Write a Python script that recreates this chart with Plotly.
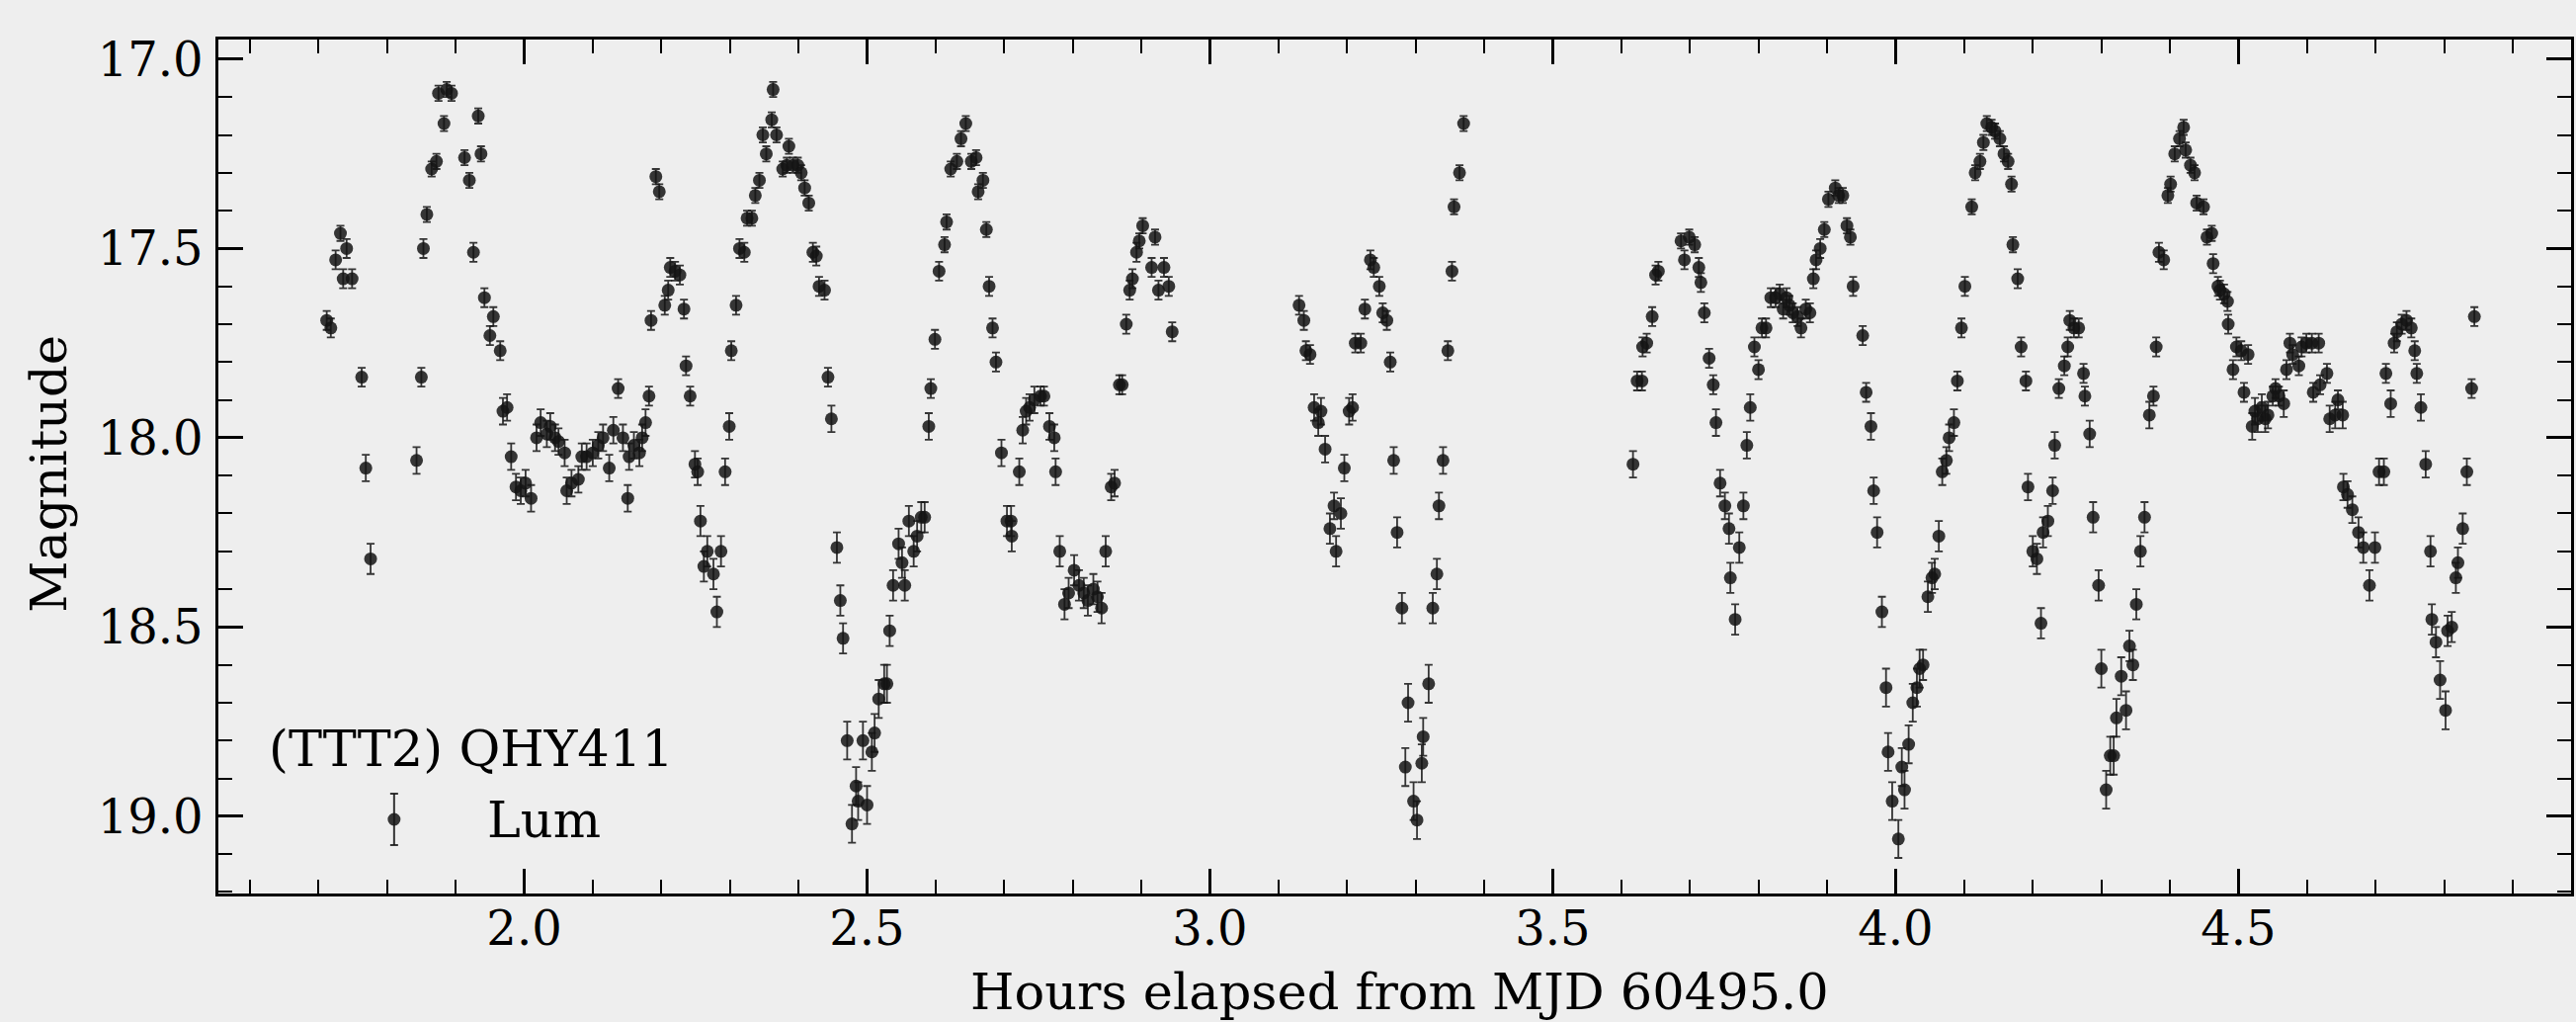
import plotly.graph_objects as go

# ---------------- data (hours elapsed from MJD 60495.0, magnitude, error) ----------------
hours_a = [1.712, 1.718, 1.725, 1.732, 1.736, 1.741, 1.749, 1.763, 1.769, 1.776,
           1.843, 1.850, 1.853, 1.858, 1.865, 1.872, 1.875, 1.883, 1.887, 1.894,
           1.913, 1.920, 1.926, 1.933, 1.937, 1.942, 1.950, 1.955, 1.965, 1.969,
           1.975, 1.981, 1.988, 1.995, 2.002, 2.010, 2.018, 2.024, 2.033, 2.038,
           2.045, 2.050, 2.059, 2.062, 2.069, 2.079, 2.084, 2.091, 2.100, 2.108,
           2.115, 2.124, 2.130, 2.137, 2.144, 2.151, 2.153, 2.160, 2.168, 2.172,
           2.177, 2.182, 2.185, 2.192, 2.197, 2.205, 2.210, 2.213, 2.220, 2.227,
           2.233, 2.236, 2.242, 2.249, 2.253, 2.257, 2.262, 2.267, 2.276, 2.281,
           2.287, 2.293, 2.299, 2.302, 2.309, 2.314, 2.321, 2.325, 2.332, 2.337,
           2.343, 2.348, 2.353, 2.361, 2.363, 2.368, 2.377, 2.383, 2.386, 2.392,
           2.399, 2.404, 2.409, 2.415, 2.421, 2.426, 2.430, 2.438, 2.443, 2.448,
           2.456, 2.461, 2.465, 2.471, 2.478, 2.484, 2.487, 2.494, 2.500, 2.507,
           2.511, 2.517, 2.525, 2.529, 2.533, 2.538, 2.546, 2.551, 2.555, 2.561,
           2.568, 2.573, 2.579, 2.584, 2.590, 2.593, 2.599, 2.605, 2.613, 2.616,
           2.622, 2.631, 2.637, 2.644, 2.652, 2.659, 2.662, 2.669, 2.674, 2.678,
           2.683, 2.688, 2.696, 2.704, 2.710, 2.711, 2.722, 2.727, 2.732, 2.737,
           2.744, 2.753, 2.758, 2.766, 2.773, 2.775, 2.781, 2.788, 2.794, 2.802,
           2.809, 2.816, 2.822, 2.830, 2.836, 2.842, 2.848, 2.856, 2.861, 2.868,
           2.872, 2.878, 2.883, 2.887, 2.893, 2.897, 2.902, 2.915, 2.920, 2.925,
           2.933, 2.940, 2.945]
mag_a = [17.69, 17.71, 17.53, 17.46, 17.58, 17.50, 17.58, 17.84, 18.08, 18.32,
         18.06, 17.84, 17.50, 17.41, 17.29, 17.27, 17.09, 17.17, 17.08, 17.09,
         17.26, 17.32, 17.51, 17.15, 17.25, 17.63, 17.73, 17.68, 17.77, 17.93,
         17.92, 18.05, 18.13, 18.14, 18.12, 18.16, 18.00, 17.96, 17.99, 17.97,
         18.00, 18.01, 18.04, 18.14, 18.12, 18.11, 18.05, 18.05, 18.04, 18.02,
         18.00, 18.08, 17.98, 17.87, 18.00, 18.16, 18.05, 18.02, 18.04, 18.00,
         17.96, 17.89, 17.69, 17.31, 17.35, 17.65, 17.61, 17.55, 17.56, 17.57,
         17.66, 17.81, 17.89, 18.07, 18.09, 18.22, 18.34, 18.30, 18.36, 18.46,
         18.30, 18.09, 17.97, 17.77, 17.65, 17.50, 17.51, 17.42, 17.42, 17.36,
         17.32, 17.20, 17.25, 17.16, 17.08, 17.20, 17.29, 17.28, 17.23, 17.28,
         17.28, 17.30, 17.34, 17.38, 17.51, 17.52, 17.60, 17.61, 17.84, 17.95,
         18.29, 18.43, 18.53, 18.80, 19.02, 18.92, 18.96, 18.80, 18.97, 18.83,
         18.78, 18.69, 18.65, 18.65, 18.51, 18.39, 18.28, 18.33, 18.39, 18.22,
         18.30, 18.26, 18.21, 18.21, 17.97, 17.87, 17.74, 17.56, 17.49, 17.43,
         17.29, 17.27, 17.21, 17.17, 17.27, 17.26, 17.35, 17.32, 17.45, 17.60,
         17.71, 17.80, 18.04, 18.22, 18.22, 18.26, 18.09, 17.98, 17.93, 17.92,
         17.90, 17.89, 17.89, 17.97, 18.00, 18.09, 18.30, 18.44, 18.41, 18.35,
         18.39, 18.41, 18.43, 18.40, 18.42, 18.45, 18.30, 18.13, 18.12, 17.86,
         17.86, 17.70, 17.61, 17.58, 17.51, 17.48, 17.44, 17.55, 17.47, 17.61,
         17.55, 17.60, 17.72]
err_a = [0.025, 0.025, 0.025, 0.02, 0.025, 0.025, 0.025, 0.025, 0.035, 0.04,
         0.035, 0.025, 0.025, 0.02, 0.02, 0.02, 0.02, 0.02, 0.02, 0.02,
         0.02, 0.02, 0.025, 0.02, 0.02, 0.025, 0.025, 0.025, 0.025, 0.035,
         0.035, 0.035, 0.035, 0.035, 0.035, 0.035, 0.035, 0.035, 0.035, 0.035,
         0.035, 0.035, 0.035, 0.035, 0.035, 0.035, 0.035, 0.035, 0.035, 0.035,
         0.035, 0.035, 0.035, 0.025, 0.035, 0.035, 0.035, 0.035, 0.035, 0.035,
         0.035, 0.025, 0.025, 0.02, 0.02, 0.025, 0.025, 0.025, 0.025, 0.025,
         0.025, 0.025, 0.025, 0.035, 0.035, 0.04, 0.04, 0.04, 0.04, 0.04,
         0.04, 0.035, 0.035, 0.025, 0.025, 0.025, 0.025, 0.02, 0.02, 0.02,
         0.02, 0.02, 0.02, 0.02, 0.02, 0.02, 0.02, 0.02, 0.02, 0.02,
         0.02, 0.02, 0.02, 0.02, 0.025, 0.025, 0.025, 0.025, 0.025, 0.035,
         0.04, 0.04, 0.04, 0.05, 0.05, 0.05, 0.05, 0.05, 0.05, 0.05,
         0.05, 0.05, 0.05, 0.05, 0.04, 0.04, 0.04, 0.04, 0.04, 0.04,
         0.04, 0.04, 0.04, 0.04, 0.035, 0.025, 0.025, 0.025, 0.02, 0.02,
         0.02, 0.02, 0.02, 0.02, 0.02, 0.02, 0.02, 0.02, 0.02, 0.025,
         0.025, 0.025, 0.035, 0.04, 0.04, 0.04, 0.035, 0.035, 0.035, 0.035,
         0.035, 0.025, 0.025, 0.035, 0.035, 0.035, 0.04, 0.04, 0.04, 0.04,
         0.04, 0.04, 0.04, 0.04, 0.04, 0.04, 0.04, 0.035, 0.035, 0.025,
         0.025, 0.025, 0.025, 0.025, 0.025, 0.02, 0.02, 0.025, 0.02, 0.025,
         0.025, 0.025, 0.025]

hours_b = [3.130, 3.137, 3.140, 3.146, 3.152, 3.158, 3.162, 3.168, 3.175, 3.181,
           3.184, 3.191, 3.196, 3.203, 3.208, 3.212, 3.220, 3.226, 3.234, 3.239,
           3.247, 3.252, 3.258, 3.263, 3.268, 3.273, 3.280, 3.285, 3.289, 3.297,
           3.302, 3.309, 3.311, 3.319, 3.325, 3.331, 3.334, 3.340, 3.347, 3.353,
           3.356, 3.364, 3.370]
mag_b = [17.65, 17.69, 17.77, 17.78, 17.92, 17.96, 17.93, 18.03, 18.24, 18.18,
         18.30, 18.20, 18.08, 17.93, 17.92, 17.75, 17.75, 17.66, 17.53, 17.55,
         17.60, 17.67, 17.69, 17.80, 18.06, 18.25, 18.45, 18.87, 18.70, 18.96,
         19.01, 18.86, 18.79, 18.65, 18.45, 18.36, 18.18, 18.06, 17.77, 17.56,
         17.39, 17.30, 17.17]
err_b = [0.025, 0.025, 0.025, 0.025, 0.035, 0.035, 0.035, 0.035, 0.04, 0.035,
         0.04, 0.04, 0.035, 0.035, 0.035, 0.025, 0.025, 0.025, 0.025, 0.025,
         0.025, 0.025, 0.025, 0.025, 0.035, 0.04, 0.04, 0.05, 0.05, 0.05,
         0.05, 0.05, 0.05, 0.05, 0.04, 0.04, 0.035, 0.035, 0.025, 0.025,
         0.02, 0.02, 0.02]

hours_c = [3.617, 3.623, 3.630, 3.631, 3.637, 3.645, 3.650, 3.654, 3.687, 3.692,
           3.699, 3.707, 3.713, 3.716, 3.721, 3.728, 3.734, 3.738, 3.744, 3.751,
           3.757, 3.759, 3.766, 3.772, 3.778, 3.783, 3.788, 3.794, 3.800, 3.805,
           3.811, 3.818, 3.825, 3.831, 3.836, 3.841, 3.845, 3.850, 3.857, 3.862,
           3.869, 3.875, 3.880, 3.884, 3.890, 3.896, 3.902, 3.912, 3.917, 3.923,
           3.929, 3.934, 3.938, 3.952, 3.957, 3.964, 3.968, 3.973, 3.980, 3.986,
           3.989, 3.995, 4.004, 4.009, 4.013, 4.019, 4.025, 4.031, 4.035, 4.040,
           4.047, 4.053, 4.057, 4.063, 4.068, 4.074, 4.078, 4.085, 4.090, 4.096,
           4.101, 4.111, 4.116, 4.123, 4.128, 4.133, 4.140, 4.145, 4.152, 4.158,
           4.164, 4.169, 4.171, 4.178, 4.183, 4.190, 4.193, 4.200, 4.206, 4.212,
           4.215, 4.222, 4.229, 4.232, 4.238, 4.246, 4.251, 4.254, 4.260, 4.267,
           4.274, 4.276, 4.283, 4.288, 4.296, 4.300, 4.307, 4.313, 4.318, 4.322,
           4.329, 4.336, 4.341, 4.346, 4.351, 4.357, 4.363, 4.370, 4.376, 4.380,
           4.384, 4.391, 4.397, 4.401, 4.407, 4.414, 4.420, 4.423, 4.430, 4.436,
           4.439, 4.449, 4.454, 4.461, 4.463, 4.470, 4.473, 4.479, 4.484, 4.485,
           4.492, 4.497, 4.504, 4.508, 4.514, 4.520, 4.524, 4.528, 4.534, 4.539,
           4.543, 4.550, 4.554, 4.559, 4.566, 4.570, 4.575, 4.579, 4.588, 4.592,
           4.599, 4.607, 4.609, 4.617, 4.619, 4.629, 4.633, 4.641, 4.645, 4.652,
           4.653, 4.659, 4.666, 4.675, 4.682, 4.691, 4.699, 4.705, 4.712, 4.715,
           4.722, 4.727, 4.731, 4.738, 4.745, 4.752, 4.757, 4.760, 4.766, 4.773,
           4.780, 4.782, 4.788, 4.794, 4.802, 4.805, 4.811, 4.817, 4.820, 4.827,
           4.833, 4.840, 4.844]
mag_c = [18.07, 17.85, 17.85, 17.76, 17.75, 17.68, 17.57, 17.56, 17.48, 17.53,
         17.47, 17.49, 17.55, 17.59, 17.67, 17.79, 17.86, 17.96, 18.12, 18.18,
         18.24, 18.37, 18.48, 18.29, 18.18, 18.02, 17.92, 17.76, 17.82, 17.71,
         17.71, 17.63, 17.63, 17.62, 17.66, 17.63, 17.65, 17.67, 17.68, 17.71,
         17.66, 17.67, 17.58, 17.53, 17.50, 17.45, 17.37, 17.34, 17.36, 17.36,
         17.44, 17.47, 17.60, 17.73, 17.88, 17.97, 18.14, 18.25, 18.46, 18.66,
         18.83, 18.96, 19.06, 18.87, 18.93, 18.81, 18.70, 18.66, 18.61, 18.60,
         18.42, 18.37, 18.36, 18.26, 18.09, 18.06, 18.00, 17.96, 17.85, 17.71,
         17.60, 17.39, 17.30, 17.27, 17.22, 17.17, 17.18, 17.19, 17.21, 17.25,
         17.27, 17.33, 17.49, 17.58, 17.76, 17.85, 18.13, 18.30, 18.32, 18.49,
         18.25, 18.22, 18.14, 18.02, 17.87, 17.81, 17.76, 17.69, 17.71, 17.71,
         17.83, 17.89, 17.99, 18.21, 18.39, 18.61, 18.93, 18.84, 18.84, 18.74,
         18.63, 18.72, 18.55, 18.60, 18.44, 18.30, 18.21, 17.94, 17.89, 17.76,
         17.51, 17.53, 17.36, 17.33, 17.25, 17.21, 17.18, 17.24, 17.28, 17.30,
         17.38, 17.39, 17.47, 17.46, 17.54, 17.60, 17.61, 17.62, 17.64, 17.70,
         17.82, 17.76, 17.77, 17.88, 17.78, 17.97, 17.93, 17.95, 17.92, 17.95,
         17.94, 17.89, 17.87, 17.89, 17.91, 17.82, 17.75, 17.78, 17.81, 17.76,
         17.75, 17.75, 17.88, 17.75, 17.86, 17.83, 17.95, 17.94, 17.90, 17.94,
         18.13, 18.15, 18.19, 18.25, 18.29, 18.39, 18.29, 18.09, 18.09, 17.83,
         17.91, 17.75, 17.72, 17.70, 17.69, 17.71, 17.77, 17.83, 17.92, 18.07,
         18.30, 18.48, 18.54, 18.64, 18.72, 18.51, 18.50, 18.37, 18.33, 18.24,
         18.09, 17.87, 17.68]
err_c = [0.035, 0.025, 0.025, 0.025, 0.025, 0.025, 0.025, 0.025, 0.02, 0.025,
         0.02, 0.02, 0.025, 0.025, 0.025, 0.025, 0.025, 0.035, 0.035, 0.035,
         0.04, 0.04, 0.04, 0.04, 0.035, 0.035, 0.035, 0.025, 0.025, 0.025,
         0.025, 0.025, 0.025, 0.025, 0.025, 0.025, 0.025, 0.025, 0.025, 0.025,
         0.025, 0.025, 0.025, 0.025, 0.025, 0.02, 0.02, 0.02, 0.02, 0.02,
         0.02, 0.02, 0.025, 0.025, 0.025, 0.035, 0.035, 0.04, 0.04, 0.05,
         0.05, 0.05, 0.05, 0.05, 0.05, 0.05, 0.05, 0.05, 0.05, 0.04,
         0.04, 0.04, 0.04, 0.04, 0.035, 0.035, 0.035, 0.035, 0.025, 0.025,
         0.025, 0.02, 0.02, 0.02, 0.02, 0.02, 0.02, 0.02, 0.02, 0.02,
         0.02, 0.02, 0.02, 0.025, 0.025, 0.025, 0.035, 0.04, 0.04, 0.04,
         0.04, 0.04, 0.035, 0.035, 0.025, 0.025, 0.025, 0.025, 0.025, 0.025,
         0.025, 0.025, 0.035, 0.04, 0.04, 0.05, 0.05, 0.05, 0.05, 0.05,
         0.05, 0.05, 0.04, 0.04, 0.04, 0.04, 0.04, 0.035, 0.025, 0.025,
         0.025, 0.025, 0.02, 0.02, 0.02, 0.02, 0.02, 0.02, 0.02, 0.02,
         0.02, 0.02, 0.02, 0.02, 0.025, 0.025, 0.025, 0.025, 0.025, 0.025,
         0.025, 0.025, 0.025, 0.025, 0.025, 0.035, 0.035, 0.035, 0.035, 0.035,
         0.035, 0.025, 0.025, 0.025, 0.035, 0.025, 0.025, 0.025, 0.025, 0.025,
         0.025, 0.025, 0.025, 0.025, 0.025, 0.025, 0.035, 0.035, 0.025, 0.035,
         0.035, 0.035, 0.035, 0.04, 0.04, 0.04, 0.04, 0.035, 0.035, 0.025,
         0.035, 0.025, 0.025, 0.025, 0.025, 0.025, 0.025, 0.025, 0.035, 0.035,
         0.04, 0.04, 0.04, 0.05, 0.05, 0.04, 0.04, 0.04, 0.04, 0.04,
         0.035, 0.025, 0.025]

instrument_label = "(TTT2) QHY411"
filter_label = "Lum"
x_title = "Hours elapsed from MJD 60495.0"
y_title = "Magnitude"

hours = hours_a + hours_b + hours_c
mag = mag_a + mag_b + mag_c
err = err_a + err_b + err_c

# ---------------- figure ----------------
W, H = 2607, 1034
ML, MR, MT, MB = 221, 2, 40, 130
FONT = "DejaVu Serif, Liberation Serif, Noto Serif, serif"
TICK_SIZE = 48
LABEL_SIZE = 51
PT_COLOR = "rgba(20,20,20,0.85)"
BG = "#eeeeee"

fig = go.Figure()
fig.add_trace(go.Scatter(
    x=hours, y=mag, mode="markers", name=filter_label, showlegend=False,
    marker=dict(size=13, color=PT_COLOR, line=dict(width=0)),
    error_y=dict(type="data", array=err, visible=True, color=PT_COLOR,
                 thickness=1.8, width=4),
))

axis_common = dict(
    showline=True, linecolor="black", linewidth=2.5, mirror="allticks",
    ticks="inside", ticklen=25, tickwidth=2.5, tickcolor="black",
    showgrid=False, zeroline=False, tickformat=".1f", tick0=0, dtick=0.5,
    tickfont=dict(family=FONT, size=TICK_SIZE, color="black"),
    minor=dict(ticks="inside", ticklen=14, tickwidth=1.8, tickcolor="black",
               dtick=0.1, tick0=0, showgrid=False),
)

fig.update_layout(
    width=W, height=H,
    margin=dict(l=ML, r=MR, t=MT, b=MB, pad=0),
    paper_bgcolor=BG, plot_bgcolor=BG,
    font=dict(family=FONT, size=TICK_SIZE, color="black"),
    xaxis=dict(range=[1.554, 4.985], ticklabelstandoff=-8, **axis_common),
    yaxis=dict(range=[19.204, 16.948], ticklabelstandoff=3, **axis_common),
    showlegend=False,
)

# axis titles
fig.add_annotation(text=x_title, xref="paper", yref="paper", x=0.502, y=-0.1152,
                   xanchor="center", yanchor="middle", showarrow=False,
                   font=dict(family=FONT, size=LABEL_SIZE, color="black"))
fig.add_annotation(text=y_title, xref="paper", yref="paper", x=0, xshift=-171,
                   y=0.491, xanchor="center", yanchor="middle", textangle=-90,
                   showarrow=False, font=dict(family=FONT, size=LABEL_SIZE, color="black"))

# legend (drawn manually, matplotlib style)
fig.add_annotation(text=instrument_label, xref="paper", yref="paper", x=0, xshift=49,
                   y=0.1700, xanchor="left", yanchor="middle", showarrow=False,
                   font=dict(family=FONT, size=LABEL_SIZE, color="black"))
fig.add_annotation(text=filter_label, xref="paper", yref="paper", x=0, xshift=270,
                   y=0.0868, xanchor="left", yanchor="middle", showarrow=False,
                   font=dict(family=FONT, size=LABEL_SIZE, color="black"))
LX, LY = 0.0747, 0.0868
glyph = dict(xref="paper", yref="paper", xsizemode="pixel", ysizemode="pixel",
             xanchor=LX, yanchor=LY)
fig.add_shape(type="line", x0=0, x1=0, y0=-26, y1=26,
              line=dict(color=PT_COLOR, width=2), **glyph)
fig.add_shape(type="line", x0=-4, x1=4, y0=-26, y1=-26,
              line=dict(color=PT_COLOR, width=2), **glyph)
fig.add_shape(type="line", x0=-4, x1=4, y0=26, y1=26,
              line=dict(color=PT_COLOR, width=2), **glyph)
fig.add_shape(type="circle", x0=-6.5, x1=6.5, y0=-6.5, y1=6.5,
              fillcolor=PT_COLOR, line=dict(width=0), **glyph)

fig.write_html(
    "out.html",
    config={"displayModeBar": False},
    post_script="document.body.style.margin='0';document.body.style.background='#eeeeee';",
)
